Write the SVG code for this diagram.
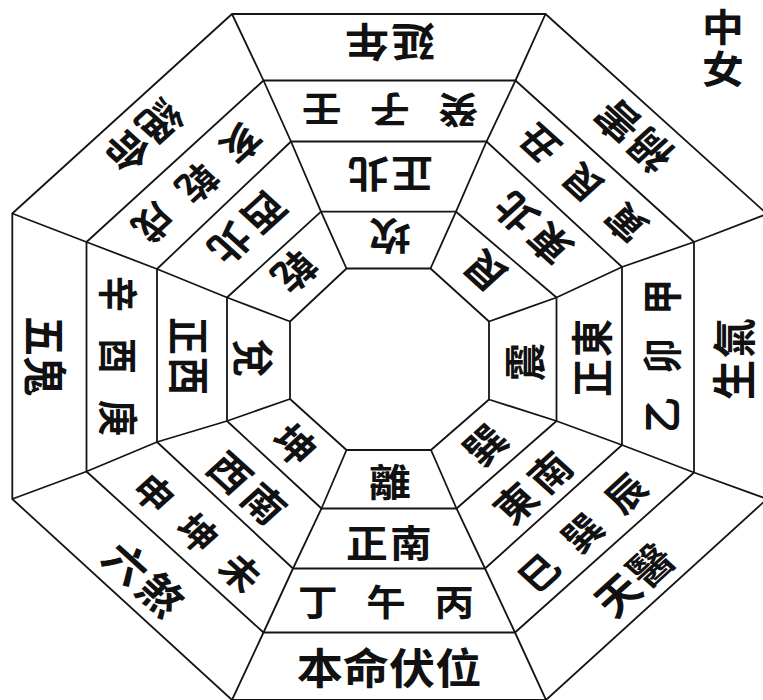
<svg xmlns="http://www.w3.org/2000/svg" width="763" height="700" viewBox="0 0 763 700">
<style>
.ln{fill:none;stroke:#151515;stroke-width:1.8;stroke-linejoin:miter}
text{font-family:"Noto Sans CJK TC","Noto Sans CJK SC",sans-serif;fill:#111;text-anchor:middle;dominant-baseline:central;font-weight:700}
.t1{font-size:38px}
.t2{font-size:38px}
.t3{font-size:36px}
.t4{font-size:40px}
.t5{font-size:42px}
.vt{writing-mode:vertical-rl;letter-spacing:4px}
</style>
<rect width="763" height="700" fill="#fff"/>
<g id="connectors">
<polygon class="ln" points="232,14 545.5,14 767,214 767,499 546,700 232,700 12.3,499 12.3,213.5"/>
<polygon class="ln" points="263.5,80.5 515.5,80.5 694,242 694,472.5 515,632.5 263.5,632.5 86.5,471.5 86.5,242"/>
<polygon class="ln" points="291,141.5 486.5,141.5 622,267 622,445 485,568.5 293,568.5 157,442 157,269"/>
<polygon class="ln" points="321,211.7 456,211.7 556.5,297.5 556.5,421 456.5,508.5 321.5,508.5 227,421 227,297.5"/>
<polygon class="ln" points="346.5,268.5 430.5,268.5 489,321.5 489,399.5 431,450 346.5,450 290,399 290,321.5"/>
<polyline class="ln" points="346.5,268.5 321,211.7 291,141.5 263.5,80.5 232,14"/>
<polyline class="ln" points="430.5,268.5 456,211.7 486.5,141.5 515.5,80.5 545.5,14"/>
<polyline class="ln" points="489,321.5 556.5,297.5 622,267 694,242 767,214"/>
<polyline class="ln" points="489,399.5 556.5,421 622,445 694,472.5 767,499"/>
<polyline class="ln" points="431,450 456.5,508.5 485,568.5 515,632.5 546,700"/>
<polyline class="ln" points="346.5,450 321.5,508.5 293,568.5 263.5,632.5 232,700"/>
<polyline class="ln" points="290,399 227,421 157,442 86.5,471.5 12.3,499"/>
<polyline class="ln" points="290,321.5 227,297.5 157,269 86.5,242 12.3,213.5"/>
</g>
<!-- North -->
<g id="n-inner" transform="translate(390,238) scale(1.1,1) rotate(180)"><text class="t1">坎</text></g>
<g id="n-dir" transform="translate(390,176) scale(1.1,1) rotate(180)"><text class="t2"><tspan x="-20">正</tspan><tspan x="20">北</tspan></text></g>
<g id="n-mtn" transform="translate(390,112) scale(1.1,1) rotate(180)"><text class="t3"><tspan x="-62">癸</tspan><tspan x="0">子</tspan><tspan x="62">壬</tspan></text></g>
<g id="n-star" transform="translate(390,45) scale(1.1,1) rotate(180)"><text class="t4"><tspan x="-21">延</tspan><tspan x="21">年</tspan></text></g>
<!-- North-east -->
<g id="ne-inner" transform="translate(484,272.5) scale(1.1,1) rotate(-135)"><text class="t1">艮</text></g>
<g id="ne-dir" transform="translate(531.6,229.3) scale(1.1,1) rotate(-135)"><text class="t2"><tspan x="-22">東</tspan><tspan x="22">北</tspan></text></g>
<g id="ne-mtn" transform="translate(580.6,184.8) scale(1.1,1) rotate(-135)"><text class="t3"><tspan x="-56">寅</tspan><tspan x="0">艮</tspan><tspan x="56">丑</tspan></text></g>
<g id="ne-star" transform="translate(631.9,138.1) scale(1.1,1) rotate(-135)"><text class="t4"><tspan x="-21">禍</tspan><tspan x="21">害</tspan></text></g>
<!-- East -->
<g id="e-inner" transform="translate(523,362) scale(1.1,1) rotate(-90)"><text class="t1">震</text></g>
<g id="e-dir" transform="translate(590.2,358) scale(1.1,1) rotate(-90)"><text class="t2"><tspan x="-20">正</tspan><tspan x="20">東</tspan></text></g>
<g id="e-mtn" transform="translate(659.5,356) scale(1.1,1) rotate(-90)"><text class="t3"><tspan x="-59">乙</tspan><tspan x="0">卯</tspan><tspan x="59">甲</tspan></text></g>
<g id="e-star" transform="translate(731,359) scale(1.1,1) rotate(-90)"><text class="t4"><tspan x="-21">生</tspan><tspan x="21">氣</tspan></text></g>
<!-- South-east -->
<g id="se-inner" transform="translate(484,443.6) scale(1.1,1) rotate(-45)"><text class="t1">巽</text></g>
<g id="se-dir" transform="translate(531.6,486.7) scale(1.1,1) rotate(-45)"><text class="t2"><tspan x="-22">東</tspan><tspan x="22">南</tspan></text></g>
<g id="se-mtn" transform="translate(580.6,531.2) scale(1.1,1) rotate(-45)"><text class="t3"><tspan x="-56">巳</tspan><tspan x="0">巽</tspan><tspan x="56">辰</tspan></text></g>
<g id="se-star" transform="translate(631.9,577.9) scale(1.1,1) rotate(-45)"><text class="t4"><tspan x="-21">天</tspan><tspan x="21">醫</tspan></text></g>
<!-- South -->
<g id="s-inner" transform="translate(390,480) scale(1.1,1)"><text class="t1">離</text></g>
<g id="s-dir" transform="translate(389,541) scale(1.1,1)"><text class="t2"><tspan x="-20">正</tspan><tspan x="20">南</tspan></text></g>
<g id="s-mtn" transform="translate(386,600) scale(1.1,1)"><text class="t3"><tspan x="-62">丁</tspan><tspan x="0">午</tspan><tspan x="62">丙</tspan></text></g>
<g id="s-star" transform="translate(389,666) scale(1.1,1)"><text class="t5">本命伏位</text></g>
<!-- South-west -->
<g id="sw-inner" transform="translate(295.9,443.6) scale(1.1,1) rotate(45)"><text class="t1">坤</text></g>
<g id="sw-dir" transform="translate(248.4,486.7) scale(1.1,1) rotate(45)"><text class="t2"><tspan x="-22">西</tspan><tspan x="22">南</tspan></text></g>
<g id="sw-mtn" transform="translate(199.4,531.2) scale(1.1,1) rotate(45)"><text class="t3"><tspan x="-56">申</tspan><tspan x="0">坤</tspan><tspan x="56">未</tspan></text></g>
<g id="sw-star" transform="translate(146,577) scale(1.1,1) rotate(45)"><text class="t4"><tspan x="-22">六</tspan><tspan x="22">煞</tspan></text></g>
<!-- West -->
<g id="w-inner" transform="translate(255,358) scale(1.1,1) rotate(90)"><text class="t1">兌</text></g>
<g id="w-dir" transform="translate(190.5,356) scale(1.1,1) rotate(90)"><text class="t2"><tspan x="-20">正</tspan><tspan x="20">西</tspan></text></g>
<g id="w-mtn" transform="translate(121,356) scale(1.1,1) rotate(90)"><text class="t3"><tspan x="-62">辛</tspan><tspan x="0">酉</tspan><tspan x="62">庚</tspan></text></g>
<g id="w-star" transform="translate(47.5,356) scale(1.1,1) rotate(90)"><text class="t4"><tspan x="-20">五</tspan><tspan x="20">鬼</tspan></text></g>
<!-- North-west -->
<g id="nw-inner" transform="translate(295.9,272.5) scale(1.1,1) rotate(135)"><text class="t1">乾</text></g>
<g id="nw-dir" transform="translate(248.4,229.3) scale(1.1,1) rotate(135)"><text class="t2"><tspan x="-22">西</tspan><tspan x="22">北</tspan></text></g>
<g id="nw-mtn" transform="translate(199.4,184.8) scale(1.1,1) rotate(135)"><text class="t3"><tspan x="-56">亥</tspan><tspan x="0">乾</tspan><tspan x="56">戌</tspan></text></g>
<g id="nw-star" transform="translate(146,138) scale(1.1,1) rotate(135)"><text class="t4"><tspan x="-21">絕</tspan><tspan x="21">命</tspan></text></g>
<!-- Title -->
<g id="title" transform="translate(723,0) scale(1.1,1)"><text class="t2 vt" x="0" y="50">中女</text></g>
</svg>
